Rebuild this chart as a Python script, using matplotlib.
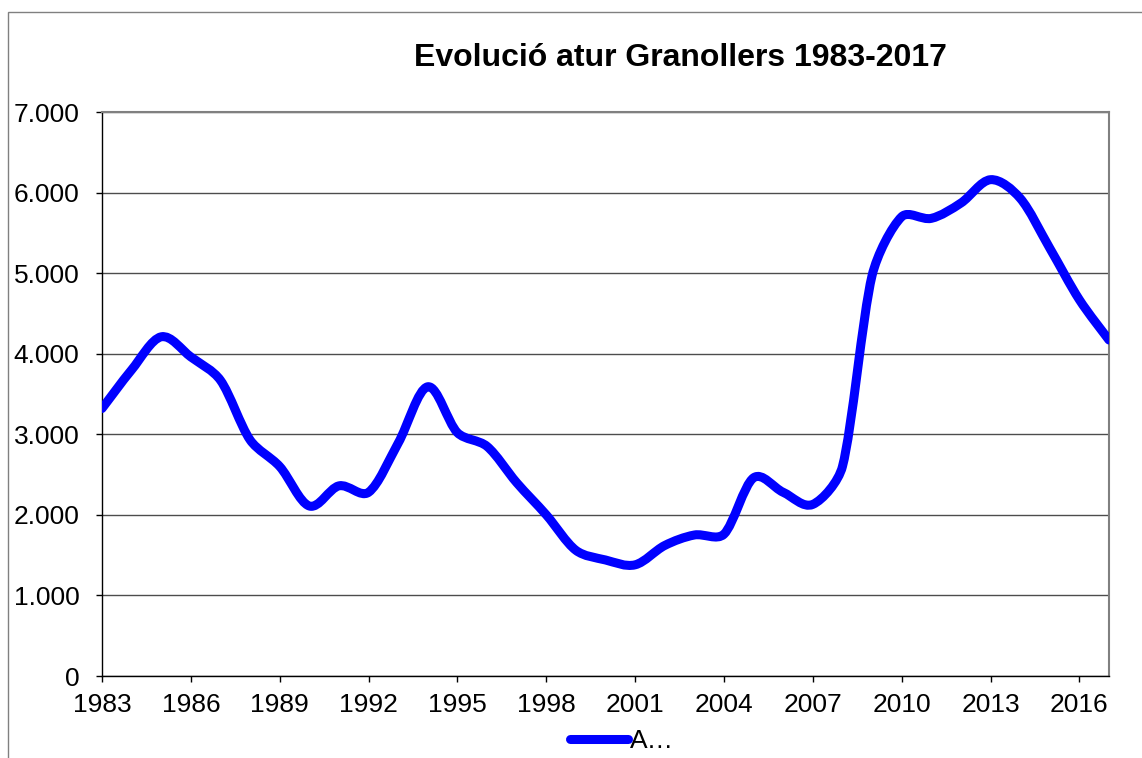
import matplotlib
matplotlib.use("Agg")
import matplotlib.pyplot as plt
from matplotlib.path import Path
from matplotlib.patches import PathPatch, Rectangle
from matplotlib.lines import Line2D
from matplotlib.ticker import FuncFormatter, MultipleLocator
import numpy as np

plt.rcParams['font.family'] = ['Liberation Sans', 'DejaVu Sans']

years = list(range(1983, 2018))
atur = [3320, 3800, 4210, 3960, 3670, 2930, 2600, 2110, 2360, 2280,
        2890, 3590, 3020, 2850, 2400, 2000, 1560, 1440, 1380, 1620,
        1750, 1760, 2460, 2280, 2130, 2600, 4970, 5700, 5680, 5870,
        6160, 5930, 5310, 4670, 4170]
title = "Evolució atur Granollers 1983-2017"
series_label = "A…"
xticks = list(range(1983, 2017, 3))
color = "#0000FF"

fig = plt.figure(figsize=(11.42, 7.58), dpi=100)
W, H = 1142, 758
ax = fig.add_axes([102 / W, 1 - 676 / H, (1109 - 102) / W, (676 - 112) / H])

# outer chart border
fig.patches.append(Rectangle((8 / W, -0.1), 1.2, 1 - 12 / H + 0.1, transform=fig.transFigure,
                             fill=False, edgecolor="#808080", linewidth=1.0))

ax.set_xlim(1983, 2017)
ax.set_ylim(0, 7000)

# smoothed line (Excel-like Bezier, built in display space via the axes transform)
pts = ax.transData.transform(np.column_stack([years, atur]).astype(float))
n = len(pts)
cap = 0.33
verts = [pts[0]]
codes = [Path.MOVETO]
for i in range(n - 1):
    p0 = pts[max(i - 1, 0)]
    p1 = pts[i]
    p2 = pts[i + 1]
    p3 = pts[min(i + 2, n - 1)]
    seg = np.linalg.norm(p2 - p1)
    t1 = (p2 - p0) / 6.0
    t2 = (p3 - p1) / 6.0
    l1 = np.linalg.norm(t1)
    l2 = np.linalg.norm(t2)
    if l1 > cap * seg:
        t1 = t1 * (cap * seg / l1)
    if l2 > cap * seg:
        t2 = t2 * (cap * seg / l2)
    c1 = p1 + t1
    c2 = p2 - t2
    verts += [c1, c2, p2]
    codes += [Path.CURVE4] * 3
verts_data = ax.transData.inverted().transform(np.array(verts))
path = Path(verts_data, codes)
ax.add_patch(PathPatch(path, facecolor="none", edgecolor=color, linewidth=6.5,
                       capstyle="round", joinstyle="round", zorder=3))

ax.yaxis.set_major_locator(MultipleLocator(1000))
ax.set_xticks(xticks)
ax.set_xticklabels([str(t) for t in xticks])
ax.yaxis.set_major_formatter(FuncFormatter(lambda v, p: f"{int(v):,}".replace(",", ".")))
ax.grid(axis="y", color="#000000", linewidth=1.0, alpha=0.7)
ax.set_axisbelow(True)

for s in ["top", "right"]:
    ax.spines[s].set_color("#808080")
    ax.spines[s].set_linewidth(1.5)
for s in ["left", "bottom"]:
    ax.spines[s].set_color("#000000")
    ax.spines[s].set_linewidth(1.0)

ax.tick_params(axis="both", direction="out", length=4.3, width=1, labelsize=19, colors="#000000")
ax.tick_params(axis="y", pad=12)
ax.tick_params(axis="x", pad=8)

fig.text(680 / W, 1 - 58 / H, title, ha="center", va="center", fontsize=23, fontweight="bold")

handle = Line2D([], [], color=color, linewidth=6.5, solid_capstyle="round")
fig.legend([handle], [series_label], loc="center", bbox_to_anchor=(622 / W, 1 - 741 / H),
           frameon=False, fontsize=19, handlelength=2.2, handletextpad=0.1, borderpad=0)

fig.savefig("out.png", dpi=100)
